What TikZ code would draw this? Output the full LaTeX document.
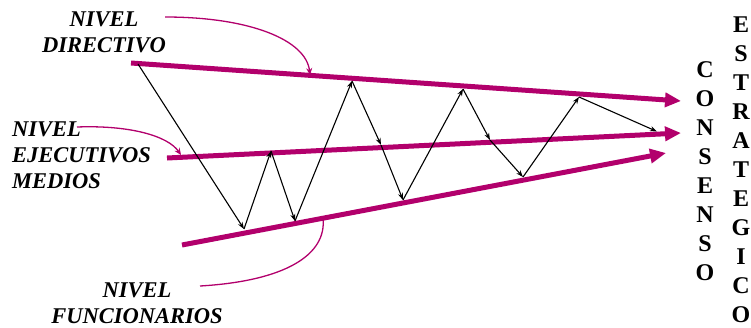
\documentclass[tikz,border=0pt]{standalone}
\usepackage{fontspec}
\setmainfont{Liberation Serif}
\usetikzlibrary{arrows.meta}
\definecolor{mag}{RGB}{178,0,108}
\tikzset{
  thickline/.style={mag, line width=5pt, -{Triangle[length=16pt,width=14pt]}},
  callout/.style={mag, line width=1.3pt, -{Stealth[length=7pt,width=6pt]}},
  zig/.style={black, line width=1.1pt, -{Stealth[length=7pt,width=5pt]}},
  lbl/.style={inner sep=0pt, font=\fontsize{22.5}{26}\selectfont\bfseries\itshape},
  vert/.style={inner sep=0pt, align=center, font=\fontsize{24}{29}\selectfont\bfseries}
}
\begin{document}
\begin{tikzpicture}[x=1pt,y=-1pt]
\useasboundingbox (0,0) rectangle (751,327);
% line end points
\coordinate (t0) at (131,63);   \coordinate (t1) at (681,101);
\coordinate (m0) at (167,158);  \coordinate (m1) at (681,133);
\coordinate (b0) at (182,245);  \coordinate (b1) at (666,153);
% callout ends
\coordinate (c1s) at (165,17);  \coordinate (c1e) at (310,75);
\coordinate (c2s) at (77,127);  \coordinate (c2e) at (181,155);
\coordinate (c3s) at (200,286); \coordinate (c3e) at (323,218);
% callouts
\draw[mag, line width=1.3pt] (c3s) .. controls (285,281) and (327,255) .. (c3e);
\draw[callout] (c1s) .. controls (250,17) and (306,40) .. (c1e);
\draw[callout] (c2s) .. controls (130,125) and (168,136) .. (c2e);
% thick lines
\draw[thickline] (t0) -- (t1);
\draw[thickline] (m0) -- (m1);
\draw[thickline] (b0) -- (b1);
% zigzag points
\coordinate (p0) at (138,64);
\coordinate (p1) at (244,229);
\coordinate (p2) at (271,151);
\coordinate (p3) at (295,221);
\coordinate (p4) at (352,81);
\coordinate (p5) at (381,145);
\coordinate (p6) at (403,200);
\coordinate (p7) at (463,89);
\coordinate (p8) at (490,140);
\coordinate (p9) at (523,177);
\coordinate (p10) at (579,97);
\coordinate (p11) at (657,131.5);
\draw[zig] (p0) -- (p1);
\draw[zig] (p1) -- (p2);
\draw[zig] (p2) -- (p3);
\draw[zig] (p3) -- (p4);
\draw[zig] (p4) -- (p5);
\draw[zig] (p5) -- (p6);
\draw[zig] (p6) -- (p7);
\draw[zig] (p7) -- (p8);
\draw[zig] (p8) -- (p9);
\draw[zig] (p9) -- (p10);
\draw[zig] (p10) -- (p11);
% labels
\node[lbl, align=center] (ldir) at (104,32) {NIVEL\\DIRECTIVO};
\node[lbl, align=left, anchor=west] (lejc) at (12,155) {NIVEL\\EJECUTIVOS\\MEDIOS};
\node[lbl, align=center] (lfun) at (137,303) {NIVEL\\FUNCIONARIOS};
\node[vert] (cons) at (705,171) {C\\O\\N\\S\\E\\N\\S\\O};
\node[vert] (estr) at (741,170) {E\\S\\T\\R\\A\\T\\E\\G\\I\\C\\O};
\end{tikzpicture}
\end{document}
